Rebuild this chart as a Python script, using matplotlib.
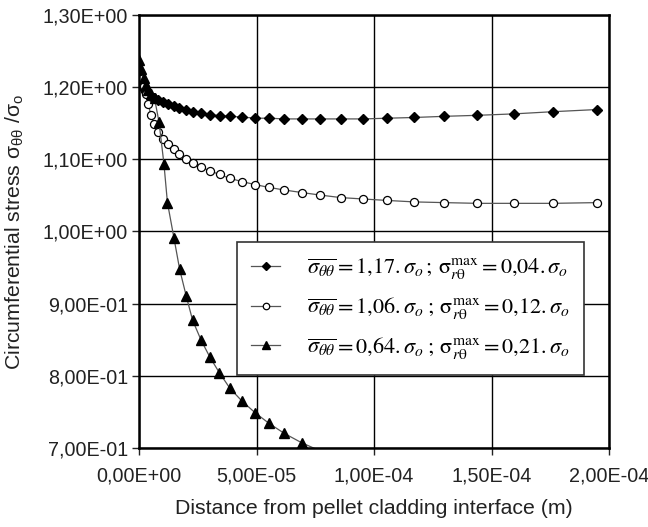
import numpy as np
import matplotlib.pyplot as plt
from matplotlib.ticker import FuncFormatter, MultipleLocator

# distances (m) and normalised circumferential stress
x_dia = [0, 1.0e-6, 2.0e-6, 3.0e-6, 4.0e-6, 5.0e-6, 6.4e-6, 8.2e-6, 1.04e-5, 1.25e-5,
         1.48e-5, 1.72e-5, 2.01e-5, 2.30e-5, 2.65e-5, 3.02e-5, 3.43e-5, 3.87e-5, 4.40e-5,
         4.94e-5, 5.54e-5, 6.18e-5, 6.92e-5, 7.70e-5, 8.58e-5, 9.55e-5, 1.057e-4, 1.171e-4,
         1.299e-4, 1.44e-4, 1.596e-4, 1.76e-4, 1.947e-4]
y_dia = [1.215, 1.205, 1.198, 1.193, 1.190, 1.187, 1.185, 1.182, 1.179, 1.176,
         1.174, 1.171, 1.168, 1.166, 1.164, 1.162, 1.1605, 1.1596, 1.1586,
         1.157, 1.157, 1.156, 1.156, 1.156, 1.156, 1.156, 1.157, 1.158,
         1.1596, 1.161, 1.163, 1.166, 1.169]

x_circ = x_dia
y_circ = [1.224, 1.212, 1.201, 1.190, 1.176, 1.162, 1.149, 1.138, 1.128, 1.121,
          1.114, 1.107, 1.101, 1.095, 1.089, 1.084, 1.079, 1.0736, 1.069,
          1.065, 1.061, 1.0575, 1.054, 1.0505, 1.047, 1.045, 1.043, 1.041,
          1.040, 1.039, 1.039, 1.039, 1.040]

x_tri = [0, 1.0e-6, 2.0e-6, 3.0e-6, 4.0e-6, 5.0e-6, 6.6e-6, 8.5e-6, 1.06e-5, 1.21e-5,
         1.49e-5, 1.73e-5, 2.01e-5, 2.28e-5, 2.64e-5, 3.02e-5, 3.42e-5, 3.87e-5, 4.38e-5,
         4.94e-5, 5.53e-5, 6.18e-5, 6.92e-5, 7.70e-5]
y_tri = [1.2376, 1.225, 1.213, 1.203, 1.196, 1.190, 1.1845, 1.152, 1.094, 1.040,
         0.9905, 0.9475, 0.9105, 0.877, 0.8495, 0.8256, 0.8042, 0.7826, 0.765,
         0.7488, 0.7341, 0.7202, 0.7072, 0.696]

labels = [r'$\overline{\sigma_{\theta\theta}}=1{,}17.\sigma_o\,;\,\mathrm{\sigma}_{r\mathrm{\theta}}^{\mathrm{max}}=0{,}04.\sigma_o$',
          r'$\overline{\sigma_{\theta\theta}}=1{,}06.\sigma_o\;;\,\mathrm{\sigma}_{r\mathrm{\theta}}^{\mathrm{max}}=0{,}12.\sigma_o$',
          r'$\overline{\sigma_{\theta\theta}}=0{,}64.\sigma_o\;;\,\mathrm{\sigma}_{r\mathrm{\theta}}^{\mathrm{max}}=0{,}21.\sigma_o$']

plt.rcParams['font.family'] = ['Liberation Sans', 'DejaVu Sans']

fig = plt.figure(figsize=(6.48, 5.27), dpi=100)
ax = fig.add_axes([0.2145, 0.15, 0.7255, 0.8215])

lc = '#555555'
ax.plot(x_dia, y_dia, color=lc, lw=0.9, marker='D', ms=5.2, mfc='black', mec='black', label=labels[0])
ax.plot(x_circ, y_circ, color=lc, lw=0.9, marker='o', ms=5.8, mfc='white', mec='black', mew=0.9, label=labels[1])
ax.plot(x_tri, y_tri, color=lc, lw=0.9, marker='^', ms=6.5, mfc='black', mec='black',
        markevery=list(range(len(x_tri) - 1)), label=labels[2])

ax.set_xlim(0, 2e-4)
ax.set_ylim(0.7, 1.3)
ax.xaxis.set_major_locator(MultipleLocator(5e-5))
ax.yaxis.set_major_locator(MultipleLocator(0.1))
fmt = FuncFormatter(lambda v, p: f"{v:.2E}".replace('.', ','))
ax.xaxis.set_major_formatter(fmt)
ax.yaxis.set_major_formatter(fmt)
ax.tick_params(labelsize=14.2, length=5, width=1, direction='out', colors='#222222')
ax.tick_params(axis='x', pad=8)
ax.tick_params(axis='y', pad=3)
ax.grid(True, color='black', lw=1)
ax.set_axisbelow(True)
for s in ax.spines.values():
    s.set_linewidth(1.8)

ax.set_xlabel('Distance from pellet cladding interface (m)', fontsize=15.3, labelpad=10, color='#222222')
ax.set_ylabel(r'Circumferential stress $\mathregular{\sigma_{\theta\theta}}$ /$\mathregular{\sigma_o}$',
              fontsize=15.3, labelpad=12, color='#222222')

leg = ax.legend(loc='upper left', bbox_to_anchor=(0.2085, 0.4757), borderaxespad=0,
                prop={'family': 'Liberation Serif', 'size': 16, 'math_fontfamily': 'stix'},
                fancybox=False, framealpha=1, edgecolor='#333333', handlelength=1.3,
                handletextpad=1.2, labelspacing=0.6, borderpad=0.65, markerscale=0.8)
leg.get_frame().set_linewidth(1.2)

fig.savefig('out.png', dpi=100)
